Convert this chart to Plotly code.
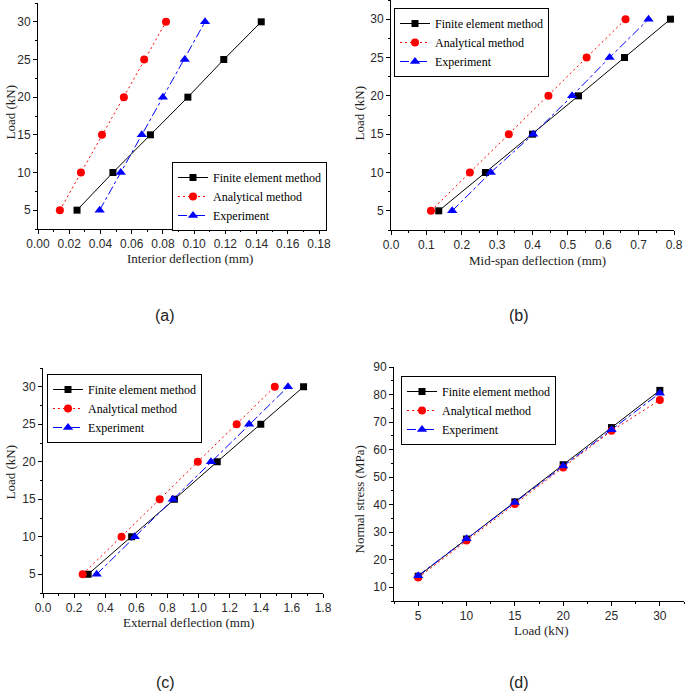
import plotly.graph_objects as go

# ---------------- data ----------------
load = [5, 10, 15, 20, 25, 30]

# (a) interior deflection (mm)
a_fem = [0.025, 0.048, 0.072, 0.096, 0.119, 0.143]
a_ana = [0.014, 0.0275, 0.041, 0.055, 0.068, 0.082]
a_exp = [0.0395, 0.053, 0.0665, 0.080, 0.094, 0.107]

# (b) mid-span deflection (mm)
b_fem = [0.135, 0.267, 0.400, 0.530, 0.660, 0.790]
b_ana = [0.113, 0.223, 0.333, 0.445, 0.553, 0.663]
b_exp = [0.173, 0.282, 0.402, 0.512, 0.618, 0.728]

# (c) external deflection (mm)
c_fem = [0.29, 0.57, 0.845, 1.12, 1.40, 1.675]
c_ana = [0.255, 0.505, 0.75, 0.995, 1.245, 1.49]
c_exp = [0.345, 0.59, 0.835, 1.08, 1.325, 1.575]

# (d) normal stress (MPa)
d_fem = [14.0, 27.5, 41.0, 54.5, 68.0, 81.5]
d_ana = [13.5, 27.0, 40.2, 53.5, 66.8, 78.0]
d_exp = [14.2, 27.6, 40.8, 54.0, 67.2, 80.5]

names = ["Finite element method", "Analytical method", "Experiment"]

W, H = 685, 693
SERIF = "Liberation Serif"
SANS = "Liberation Sans"

styles = [
    dict(color="black", dash="solid", symbol="square", size=7),
    dict(color="#FF0000", dash="2px,3px", symbol="circle", size=8),
    dict(color="#0000FF", dash="dashdot", symbol="triangle-up", size=9),
]

fig = go.Figure()

panels = [
    ("", "legend", [(a_fem, load), (a_ana, load), (a_exp, load)]),
    ("2", "legend2", [(b_fem, load), (b_ana, load), (b_exp, load)]),
    ("3", "legend3", [(c_fem, load), (c_ana, load), (c_exp, load)]),
    ("4", "legend4", [(load, d_fem), (load, d_ana), (load, d_exp)]),
]

for suf, leg, series in panels:
    for (xs, ys), nm, st in zip(series, names, styles):
        fig.add_trace(go.Scatter(
            x=xs, y=ys, name=nm, mode="lines+markers",
            xaxis="x" + suf, yaxis="y" + suf, legend=leg,
            line=dict(color=st["color"], dash=st["dash"], width=1),
            marker=dict(color=st["color"], symbol=st["symbol"], size=st["size"]),
        ))

def px_dom_x(a, b):
    return [a / W, b / W]

def px_dom_y(top, bottom):
    return [1 - bottom / H, 1 - top / H]

tickfont = dict(family=SANS, size=12, color="#2a2a2a")

def axis(dom, rng, dtick, minor_dtick, anchor):
    return dict(
        domain=dom, range=rng, dtick=dtick, tick0=0, anchor=anchor,
        automargin=False,
        showgrid=False, zeroline=False, showline=True, linecolor="black",
        linewidth=1, ticks="outside", ticklen=4, tickcolor="black",
        tickfont=tickfont,
        minor=dict(dtick=minor_dtick, ticks="outside", ticklen=2,
                   tickcolor="black", showgrid=False),
    )

layout = dict(
    template="none",
    width=W, height=H, margin=dict(l=0, r=0, t=0, b=0, pad=0),
    paper_bgcolor="white", plot_bgcolor="white",
)

layout["xaxis"] = axis(px_dom_x(38, 319), [0, 0.18], 0.02, 0.01, "y")
layout["xaxis"]["tickformat"] = ".2f"
layout["yaxis"] = axis(px_dom_y(3, 229), [2.5, 32.5], 5, 2.5, "x")

layout["xaxis2"] = axis(px_dom_x(391, 674), [0, 0.8], 0.1, 0.05, "y2")
layout["xaxis2"]["tickformat"] = ".1f"
layout["yaxis2"] = axis(px_dom_y(0, 230), [2.5, 32.5], 5, 2.5, "x2")

layout["xaxis3"] = axis(px_dom_x(43, 323), [0, 1.8], 0.2, 0.1, "y3")
layout["xaxis3"]["tickformat"] = ".1f"
layout["yaxis3"] = axis(px_dom_y(368, 593), [2.5, 32.5], 5, 2.5, "x3")

layout["xaxis4"] = axis(px_dom_x(394, 684), [2.5, 32.5], 5, 2.5, "y4")
layout["yaxis4"] = axis(px_dom_y(367, 601), [5, 90], 10, 5, "x4")

legfont = dict(family=SERIF, size=12, color="black")

def leg(x, y):
    return dict(
        x=x / W, y=1 - y / H, xanchor="left", yanchor="top",
        bgcolor="white", bordercolor="black", borderwidth=1,
        font=legfont, itemwidth=30, tracegroupgap=0,
    )

layout["legend"] = leg(172, 162)
layout["legend2"] = leg(394, 8)
layout["legend3"] = leg(47, 374)
layout["legend4"] = leg(401, 376)

fig.update_layout(**layout)

titlefont = dict(family=SERIF, size=13, color="#222222")
ann = []

def add_text(text, x, y, font, angle=0, xanchor="center", yanchor="middle"):
    ann.append(dict(text=text, x=x / W, y=1 - y / H, xref="paper", yref="paper",
                    showarrow=False, xanchor=xanchor, yanchor=yanchor,
                    font=font, textangle=angle))

add_text("Interior deflection (mm)", 190, 258, titlefont)
add_text("Mid-span deflection (mm)", 537, 260, titlefont)
add_text("External deflection (mm)", 188, 622, titlefont)
add_text("Load (kN)", 541, 630, titlefont)

add_text("Load (kN)", 0, 112, titlefont, -90, xanchor="left")
add_text("Load (kN)", 349, 113, titlefont, -90, xanchor="left")
add_text("Load (kN)", 0, 472, titlefont, -90, xanchor="left")
add_text("Normal stress (MPa)", 349, 500, titlefont, -90, xanchor="left")

panelfont = dict(family=SANS, size=16, color="#222222")
add_text("(a)", 165, 316, panelfont)
add_text("(b)", 519, 315, panelfont)
add_text("(c)", 165, 693, panelfont, yanchor="bottom")
add_text("(d)", 519, 693, panelfont, yanchor="bottom")

fig.update_layout(annotations=ann)

fig.write_html(
    "out.html",
    config={"displayModeBar": False},
    post_script="document.body.style.margin='0px';document.body.style.overflow='hidden';",
)
